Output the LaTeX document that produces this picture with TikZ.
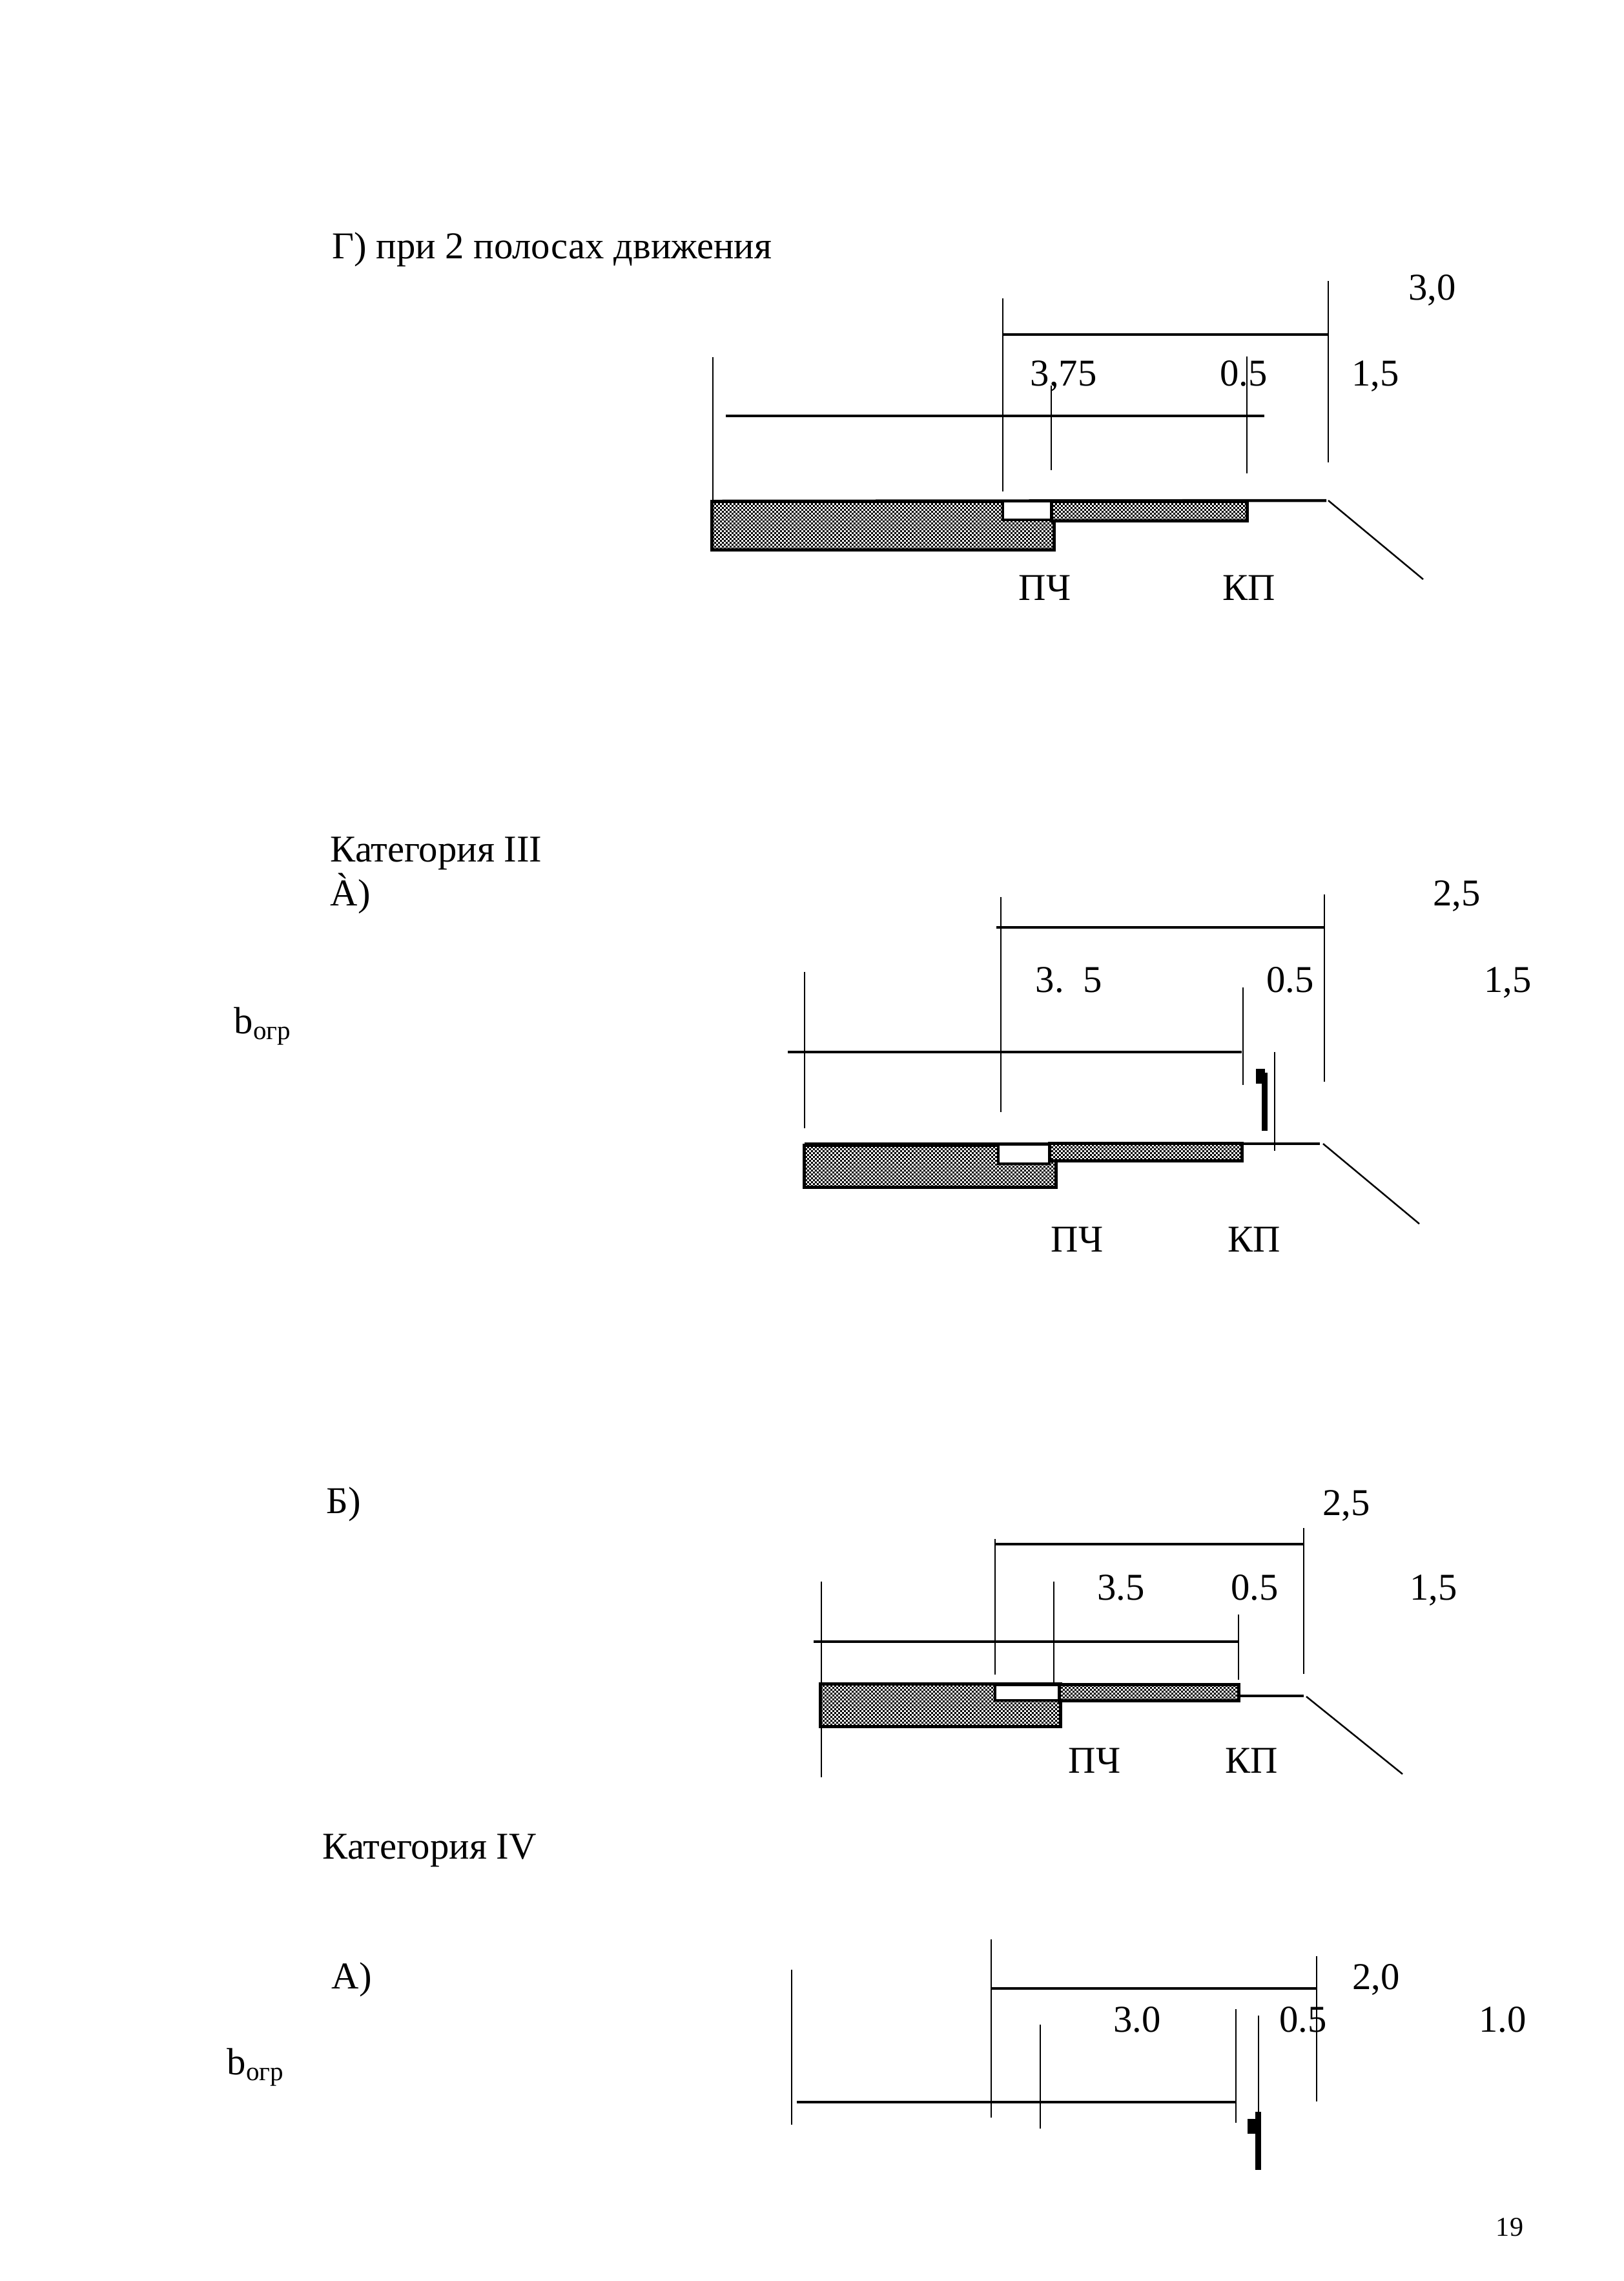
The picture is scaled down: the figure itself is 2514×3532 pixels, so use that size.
\documentclass[tikz,border=0pt]{standalone}
\usepackage{fontspec}
\setmainfont{Liberation Serif}
\usetikzlibrary{patterns}
\pgfdeclarepatternformonly{damier}{\pgfpointorigin}{\pgfqpoint{1.7071pt}{1.7071pt}}{\pgfqpoint{1.7071pt}{1.7071pt}}{
  \pgfpathrectangle{\pgfpointorigin}{\pgfqpoint{.8535pt}{.8535pt}}
  \pgfpathrectangle{\pgfqpoint{.8535pt}{.8535pt}}{\pgfqpoint{.8535pt}{.8535pt}}
  \pgfusepath{fill}}
\tikzset{
  fine/.style={line width=2.5pt*0.2845},
  cote/.style={line width=4.5pt*0.2845},
  bloc/.style={draw=black,line width=5pt*0.2845,preaction={fill=white},pattern=damier},
  vide/.style={draw=black,line width=4pt*0.2845,fill=white},
  borne/.style={fill=black,draw=none},
  txt/.style={inner sep=0pt,text height=11.3pt,text depth=0pt,font=\fontsize{16.7pt}{18pt}\selectfont},
  txtl/.style={inner sep=0pt,anchor=base west,font=\fontsize{16.7pt}{18pt}\selectfont}
}
\begin{document}
\begin{tikzpicture}[x=0.1mm,y=-0.1mm]
  \useasboundingbox (0,0) rectangle (2514,3532);

  % TITRES
  \node[txtl] (titreG) at (514,400) {Г) при 2 полосах движения};
  \node[txtl] (cat3) at (511,1334) {Категория III};
  \node[txtl] (cat3a) at (511,1402) {À)};
  \node[txtl] (borg3) at (362,1600) {b\textsubscript{огр}};
  \node[txtl] (cat3b) at (505,2343) {Б)};
  \node[txtl] (cat4) at (499,2878) {Категория IV};
  \node[txtl] (cat4a) at (513,3079) {А)};
  \node[txtl] (borg4) at (351,3212) {b\textsubscript{огр}};
  \node[inner sep=0pt,anchor=base,font=\fontsize{12pt}{14pt}\selectfont] (page) at (2338,3462) {19};

  % SCHEMA G
  \coordinate (A1) at (1104,553);
  \coordinate (B1) at (1104,776);
  \coordinate (C1) at (1553,462);
  \coordinate (D1) at (1553,761);
  \coordinate (E1) at (2057,435);
  \coordinate (F1) at (2057,716);
  \coordinate (G1) at (1628,597);
  \coordinate (H1) at (1628,728);
  \coordinate (I1) at (1931,552);
  \coordinate (J1) at (1931,733);
  \coordinate (K1) at (1553,518);
  \coordinate (L1) at (2057,518);
  \coordinate (M1) at (1124,644);
  \coordinate (N1) at (1958,644);
  \coordinate (O1) at (2054,775);
  \coordinate (P1) at (2057,775);
  \coordinate (Q1) at (2204,897);

  \draw[bloc] (1102,776) rectangle (1632,851);
  \draw[bloc] (1628,776) rectangle (1931,806);
  \draw[vide] (1553,776) rectangle (1628,805);
  \draw[fine] (A1)--(B1);
  \draw[fine] (C1)--(D1);
  \draw[fine] (E1)--(F1);
  \draw[fine] (G1)--(H1);
  \draw[fine] (I1)--(J1);
  \draw[cote] (K1)--(L1);
  \draw[cote] (M1)--(N1);
  \draw[cote] (B1)--(O1);
  \draw[fine] (P1)--(Q1);

  \node[txt] (v30) at (2218,445) {3,0};
  \node[txt] (v375) at (1647,578) {3,75};
  \node[txt] (v05a) at (1926,578) {0.5};
  \node[txt] (v15a) at (2130,578) {1,5};
  \node[txt] (pca) at (1618,910) {ПЧ};
  \node[txt] (kpa) at (1934,910) {КП};

  % SCHEMA III A
  \coordinate (A2) at (1246,1505);
  \coordinate (B2) at (1246,1747);
  \coordinate (C2) at (1550,1389);
  \coordinate (D2) at (1550,1722);
  \coordinate (E2) at (2051,1385);
  \coordinate (F2) at (2051,1675);
  \coordinate (G2) at (1925,1529);
  \coordinate (H2) at (1925,1680);
  \coordinate (I2) at (1974,1629);
  \coordinate (J2) at (1974,1782);
  \coordinate (K2) at (1543,1436);
  \coordinate (L2) at (2050,1436);
  \coordinate (M2) at (1220,1629);
  \coordinate (N2) at (1923,1629);
  \coordinate (O2) at (1246,1771);
  \coordinate (P2) at (2044,1771);
  \coordinate (Q2) at (2049,1771);
  \coordinate (R2) at (2198,1895);

  \draw[bloc] (1245,1773) rectangle (1635,1838);
  \draw[bloc] (1625,1770) rectangle (1923,1797);
  \draw[vide] (1546,1772) rectangle (1625,1802);
  \fill[borne] (1945,1655) rectangle (1959,1678);
  \fill[borne] (1954,1661) rectangle (1963,1751);
  \draw[fine] (A2)--(B2);
  \draw[fine] (C2)--(D2);
  \draw[fine] (E2)--(F2);
  \draw[fine] (G2)--(H2);
  \draw[fine] (I2)--(J2);
  \draw[cote] (K2)--(L2);
  \draw[cote] (M2)--(N2);
  \draw[cote] (O2)--(P2);
  \draw[fine] (Q2)--(R2);

  \node[txt] (v25a) at (2256,1383) {2,5};
  \node[txt] (v35a) at (1655,1517) {3.\ \ 5};
  \node[txt] (v05b) at (1998,1517) {0.5};
  \node[txt] (v15b) at (2335,1517) {1,5};
  \node[txt] (pcb) at (1668,1919) {ПЧ};
  \node[txt] (kpb) at (1942,1919) {КП};

  % SCHEMA III B
  \coordinate (A3) at (1272,2449);
  \coordinate (B3) at (1272,2752);
  \coordinate (C3) at (1541,2383);
  \coordinate (D3) at (1541,2593);
  \coordinate (E3) at (2019,2366);
  \coordinate (F3) at (2019,2592);
  \coordinate (G3) at (1632,2449);
  \coordinate (H3) at (1632,2607);
  \coordinate (I3) at (1918,2500);
  \coordinate (J3) at (1918,2601);
  \coordinate (K3) at (1541,2391);
  \coordinate (L3) at (2019,2391);
  \coordinate (M3) at (1260,2542);
  \coordinate (N3) at (1918,2542);
  \coordinate (O3) at (1918,2626);
  \coordinate (P3) at (2019,2626);
  \coordinate (Q3) at (2023,2627);
  \coordinate (R3) at (2172,2747);

  \draw[bloc] (1270,2607) rectangle (1642,2673);
  \draw[bloc] (1640,2608) rectangle (1918,2633);
  \draw[vide] (1541,2609) rectangle (1640,2633);
  \draw[fine] (A3)--(B3);
  \draw[fine] (C3)--(D3);
  \draw[fine] (E3)--(F3);
  \draw[fine] (G3)--(H3);
  \draw[fine] (I3)--(J3);
  \draw[cote] (K3)--(L3);
  \draw[cote] (M3)--(N3);
  \draw[cote] (O3)--(P3);
  \draw[fine] (Q3)--(R3);

  \node[txt] (v25b) at (2085,2327) {2,5};
  \node[txt] (v35b) at (1736,2458) {3.5};
  \node[txt] (v05c) at (1943,2458) {0.5};
  \node[txt] (v15c) at (2220,2458) {1,5};
  \node[txt] (pcc) at (1695,2726) {ПЧ};
  \node[txt] (kpc) at (1938,2726) {КП};

  % SCHEMA IV A
  \coordinate (A4) at (1226,3050);
  \coordinate (B4) at (1226,3290);
  \coordinate (C4) at (1535,3003);
  \coordinate (D4) at (1535,3279);
  \coordinate (E4) at (2039,3029);
  \coordinate (F4) at (2039,3254);
  \coordinate (G4) at (1611,3135);
  \coordinate (H4) at (1611,3296);
  \coordinate (I4) at (1914,3111);
  \coordinate (J4) at (1914,3287);
  \coordinate (K4) at (1949,3121);
  \coordinate (L4) at (1949,3270);
  \coordinate (M4) at (1535,3079);
  \coordinate (N4) at (2039,3079);
  \coordinate (O4) at (1234,3255);
  \coordinate (P4) at (1913,3255);

  \fill[borne] (1932,3281) rectangle (1950,3304);
  \fill[borne] (1944,3270) rectangle (1953,3360);
  \draw[fine] (A4)--(B4);
  \draw[fine] (C4)--(D4);
  \draw[fine] (E4)--(F4);
  \draw[fine] (G4)--(H4);
  \draw[fine] (I4)--(J4);
  \draw[fine] (K4)--(L4);
  \draw[cote] (M4)--(N4);
  \draw[cote] (O4)--(P4);

  \node[txt] (v20) at (2131,3061) {2,0};
  \node[txt] (v30b) at (1761,3127) {3.0};
  \node[txt] (v05d) at (2018,3127) {0.5};
  \node[txt] (v10) at (2327,3127) {1.0};
\end{tikzpicture}
\end{document}
